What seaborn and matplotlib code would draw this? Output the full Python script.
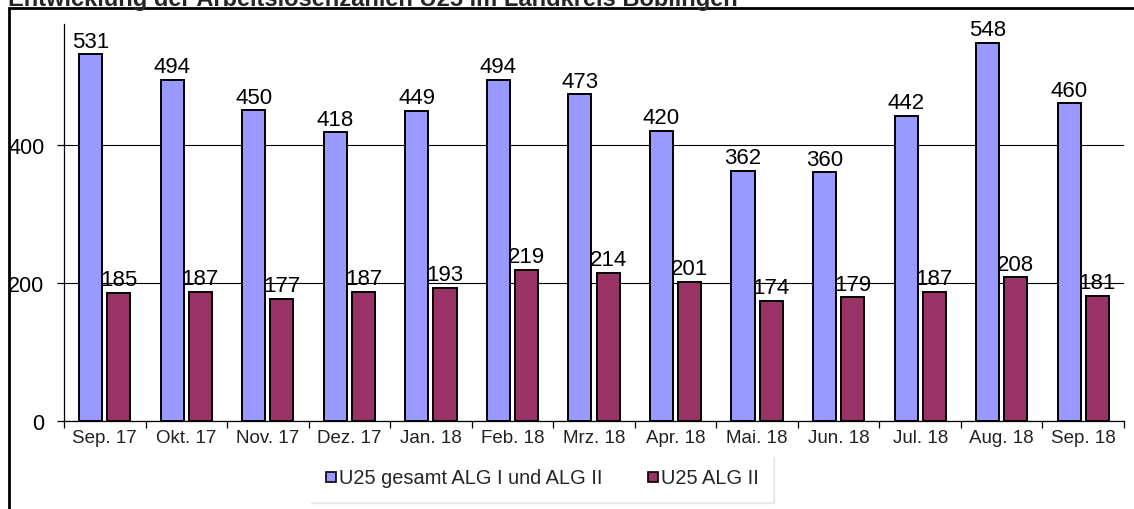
import pandas as pd
import matplotlib.pyplot as plt
import seaborn as sns
from matplotlib.patches import Rectangle
from matplotlib.lines import Line2D

monate = ['Sep. 17', 'Okt. 17', 'Nov. 17', 'Dez. 17', 'Jan. 18', 'Feb. 18', 'Mrz. 18',
          'Apr. 18', 'Mai. 18', 'Jun. 18', 'Jul. 18', 'Aug. 18', 'Sep. 18']
gesamt = [531, 494, 450, 418, 449, 494, 473, 420, 362, 360, 442, 548, 460]
alg2 = [185, 187, 177, 187, 193, 219, 214, 201, 174, 179, 187, 208, 181]
reihen = ['U25 gesamt ALG I und ALG II', 'U25 ALG II']
farben = ['#9999FF', '#993366']

df = pd.DataFrame({
    'Monat': monate * 2,
    'Anzahl': gesamt + alg2,
    'Reihe': [reihen[0]] * len(monate) + [reihen[1]] * len(monate),
})

sns.set_style('white')
plt.rcParams['font.family'] = ['Liberation Sans', 'DejaVu Sans']

fig = plt.figure(figsize=(11.34, 5.1), dpi=100)
ax = fig.add_axes([64 / 1134, 1 - 422 / 510, 1060 / 1134, 397 / 510])

sns.barplot(data=df, x='Monat', y='Anzahl', hue='Reihe', palette=farben, saturation=1,
            width=0.69, gap=0.18, edgecolor='black', linewidth=1.4,
            legend=False, ax=ax)

for c in ax.containers:
    ax.bar_label(c, padding=2, fontsize=16, color='black')

ax.set_ylim(0, 575)
ax.set_xlim(-0.5, len(monate) - 0.5)
ax.set_yticks([0, 200, 400])
ax.yaxis.grid(True, color='black', linewidth=0.8)
ax.set_axisbelow(True)
ax.set_xlabel('')
ax.set_ylabel('')
for s in ['top', 'right']:
    ax.spines[s].set_visible(False)
for s in ['left', 'bottom']:
    ax.spines[s].set_color('black')
    ax.spines[s].set_linewidth(0.9)

ax.tick_params(axis='y', length=5, width=0.9, pad=9, labelsize=15.5, colors='black', left=True)
ax.tick_params(axis='x', which='major', length=0, pad=6, labelsize=13.5, labelcolor='#222222')
ax.set_xticks([i - 0.5 for i in range(len(monate) + 1)], minor=True)
ax.tick_params(axis='x', which='minor', length=5, width=0.9, color='black', bottom=True)

handles = [Line2D([], [], marker='s', linestyle='none', markersize=7.5,
                  markerfacecolor=f, markeredgecolor='black', markeredgewidth=1.2)
           for f in farben]
leg = fig.legend(handles, reihen, ncol=2, loc='center', bbox_to_anchor=(540 / 1134, 1 - 479 / 510),
                 frameon=True, fontsize=14.4, handletextpad=-0.1, columnspacing=2.0,
                 handlelength=1.0, borderpad=0.35, borderaxespad=0,
                 shadow={'color': '#e8e8e8', 'alpha': 1})
leg.get_frame().set_edgecolor('white')
leg.get_frame().set_boxstyle('square')

# aeusserer Rahmen
fig.patches.append(Rectangle((9 / 1134, -0.1), 1.2, 1.1 - 9 / 510, transform=fig.transFigure,
                             fill=False, edgecolor='black', linewidth=2, zorder=0))

fig.text(8 / 1134, 1 - 6 / 510, 'Entwicklung der Arbeitslosenzahlen U25 im Landkreis Böblingen',
         fontsize=17, fontweight='bold', va='baseline', ha='left')

plt.savefig('out.png', dpi=100)
